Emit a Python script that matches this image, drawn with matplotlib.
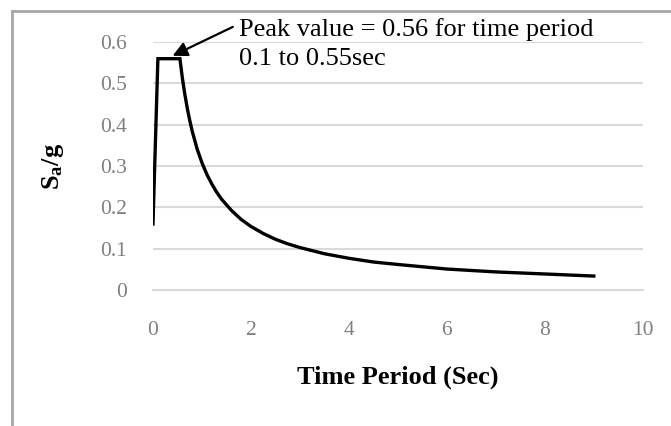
import matplotlib
matplotlib.use("Agg")
import matplotlib.pyplot as plt
from matplotlib.lines import Line2D

# Response spectrum
periodo = [0.0, 0.1, 0.55, 0.6, 0.65, 0.7, 0.75, 0.8, 0.9, 1.0, 1.1, 1.2, 1.3,
           1.4, 1.6, 1.8, 2.0, 2.25, 2.5, 2.75, 3.0, 3.5, 4.0, 4.5, 5.0, 6.0,
           7.0, 8.0, 9.0]
sa_g = [0.16, 0.56, 0.56, 0.513, 0.474, 0.44, 0.411, 0.385, 0.342, 0.308,
        0.28, 0.257, 0.237, 0.22, 0.193, 0.171, 0.154, 0.137, 0.123, 0.112,
        0.103, 0.088, 0.077, 0.068, 0.062, 0.051, 0.044, 0.039, 0.034]
x_ticks = [0, 2, 4, 6, 8, 10]
y_ticks = [0, 0.1, 0.2, 0.3, 0.4, 0.5, 0.6]
y_tick_labels = ["0", "0.1", "0.2", "0.3", "0.4", "0.5", "0.6"]

plt.rcParams["mathtext.fontset"] = "custom"
plt.rcParams["mathtext.bf"] = "Liberation Serif:bold"
plt.rcParams["mathtext.it"] = "Liberation Serif:bold"
plt.rcParams["mathtext.rm"] = "Liberation Serif:bold"

fig = plt.figure(figsize=(6.71, 4.26), dpi=100)
ax = fig.add_axes([0.228, 0.319, 0.730, 0.582])

ax.plot(periodo, sa_g, color="black", lw=2.4, solid_joinstyle="miter")

ax.set_xlim(0, 10)
ax.set_ylim(0, 0.6)
ax.set_xticks(x_ticks)
ax.set_yticks(y_ticks)
ax.set_yticklabels(y_tick_labels)
ax.grid(axis="y", color="#d9d9d9", lw=1.5)
ax.set_axisbelow(True)
for s in ["left", "right", "top"]:
    ax.spines[s].set_visible(False)
ax.spines["bottom"].set_color("#d9d9d9")
ax.spines["bottom"].set_linewidth(1.5)
ax.tick_params(length=0, colors="#7f7f7f", labelsize=15.5)
ax.tick_params(axis="y", pad=19)
ax.tick_params(axis="x", pad=22)
for lbl in ax.get_xticklabels() + ax.get_yticklabels():
    lbl.set_fontfamily("Liberation Serif")

ax.set_xlabel("Time Period (Sec)", fontsize=19, fontweight="bold",
              family="Liberation Serif", labelpad=19)
ax.set_ylabel(r"$\mathbf{S_a/g}$", fontsize=19, labelpad=24)

ax.text(1.76, 0.659, "Peak value = 0.56 for time period\n0.1 to 0.55sec",
        fontsize=19, family="Liberation Serif", va="top", ha="left",
        linespacing=1.45, clip_on=False)
ax.annotate("", xy=(0.4, 0.567), xytext=(1.63, 0.637),
            annotation_clip=False,
            arrowprops=dict(arrowstyle="-|>", color="black", lw=1.6,
                            mutation_scale=22, shrinkA=0, shrinkB=0))

# outer frame of the chart box
fig.add_artist(Line2D([0.018, 0.018], [0, 0.974], color="#a6a6a6", lw=2,
                      transform=fig.transFigure))
fig.add_artist(Line2D([0.018, 1.0], [0.974, 0.974], color="#a6a6a6", lw=2,
                      transform=fig.transFigure))

fig.savefig("out.png", dpi=100)
